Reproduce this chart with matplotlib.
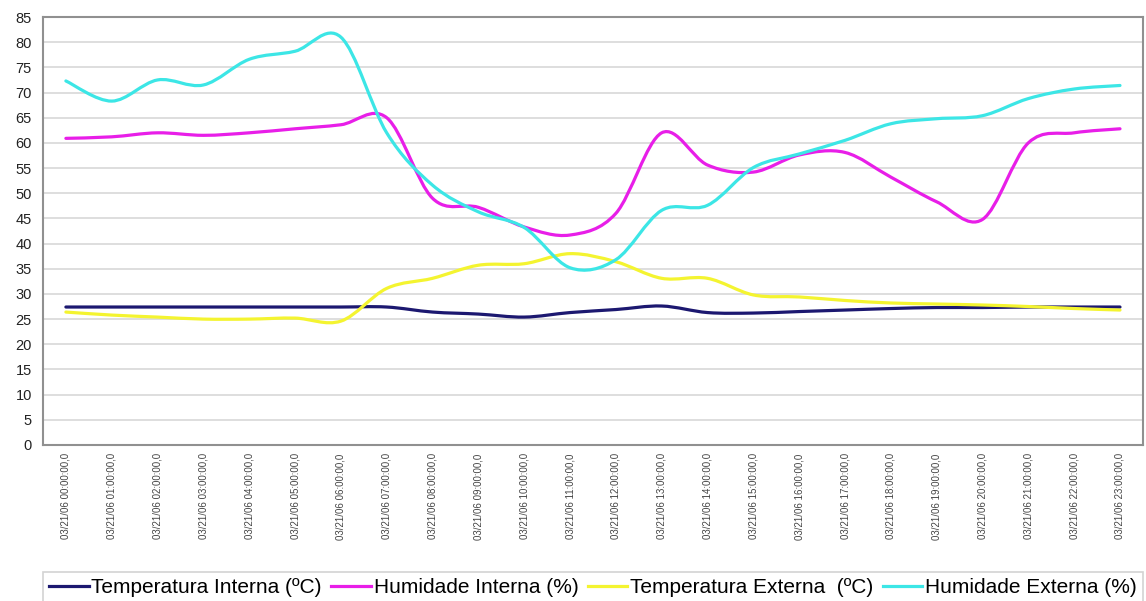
import matplotlib.pyplot as plt
import numpy as np
from matplotlib.path import Path
from matplotlib.patches import PathPatch
from matplotlib.lines import Line2D

plt.rcParams['font.family'] = ['Liberation Sans', 'DejaVu Sans']

horas = ['03/21/06 %02d:00:00,0' % h for h in range(24)]

temp_interna = [27.4, 27.4, 27.4, 27.4, 27.4, 27.4, 27.4, 27.4, 26.4, 26.0, 25.4, 26.3,
                26.9, 27.6, 26.3, 26.2, 26.5, 26.8, 27.1, 27.3, 27.3, 27.4, 27.4, 27.4]
hum_interna = [60.9, 61.2, 62.0, 61.5, 62.0, 62.8, 63.6, 65.0, 49.0, 47.2, 43.3, 41.7,
               46.0, 62.0, 55.6, 54.2, 57.6, 58.1, 53.2, 48.3, 44.8, 60.0, 62.0, 62.8]
temp_externa = [26.4, 25.8, 25.4, 25.0, 25.0, 25.2, 24.6, 31.1, 33.1, 35.7, 36.0, 38.0,
                36.4, 33.1, 33.1, 29.8, 29.4, 28.7, 28.2, 28.0, 27.8, 27.5, 27.1, 26.8]
hum_externa = [72.3, 68.3, 72.5, 71.5, 76.6, 78.2, 81.0, 62.0, 51.6, 46.3, 43.2, 35.2,
               36.8, 46.6, 47.6, 55.1, 57.8, 60.5, 63.8, 64.8, 65.4, 68.8, 70.7, 71.4]

series = [
    ('Temperatura Interna (ºC)', temp_interna, '#1c1870'),
    ('Humidade Interna (%)', hum_interna, '#e81ee8'),
    ('Temperatura Externa  (ºC)', temp_externa, '#f4f430'),
    ('Humidade Externa (%)', hum_externa, '#3ce6e6'),
]


def smooth_path(xs, ys, tension=1 / 6):
    # Catmull-Rom style curve through the points, as bezier segments
    pts = np.column_stack([xs, ys]).astype(float)
    n = len(pts)
    verts = [pts[0]]
    codes = [Path.MOVETO]
    for i in range(n - 1):
        p0 = pts[max(i - 1, 0)]
        p1 = pts[i]
        p2 = pts[i + 1]
        p3 = pts[min(i + 2, n - 1)]
        c1 = p1 + (p2 - p0) * tension
        c2 = p2 - (p3 - p1) * tension
        verts += [c1, c2, p2]
        codes += [Path.CURVE4] * 3
    return Path(verts, codes)


fig = plt.figure(figsize=(11.46, 6.01), dpi=100)
ax = fig.add_axes([0.0375, 0.2596, 0.9598, 0.7121])

x = np.arange(len(horas))
for nome, vals, cor in series:
    patch = PathPatch(smooth_path(x, vals), facecolor='none', edgecolor=cor,
                      lw=2.3, capstyle='round', joinstyle='round', zorder=3)
    ax.add_patch(patch)

ax.set_xlim(-0.5, len(horas) - 0.5)
ax.set_ylim(0, 85)
ax.set_yticks(np.arange(0, 86, 5))
ax.yaxis.grid(True, color='#d8d8d8', lw=1.2)
ax.set_axisbelow(True)
ax.set_xticks(x)
ax.set_xticklabels(horas, rotation=90, fontsize=7, color='#444444')
ax.tick_params(axis='x', length=0, pad=6)
ax.tick_params(axis='y', length=0, labelsize=10.5, pad=8, labelcolor='#222222')
for s in ax.spines.values():
    s.set_color('#909090')
    s.set_linewidth(1.5)

handles = [Line2D([], [], color=c, lw=2.3) for _, _, c in series]
leg = fig.legend(handles, [n for n, _, _ in series], loc='lower left',
                 bbox_to_anchor=(0.0375, -0.004, 0.9598, 0.06), mode='expand',
                 borderaxespad=0, ncol=4, fontsize=15, handlelength=1.9,
                 handletextpad=0.12, columnspacing=0.2, frameon=True,
                 fancybox=False, borderpad=0.3)
leg.get_frame().set_edgecolor('#c8c8c8')
leg.get_frame().set_linewidth(1.2)

fig.savefig('out.png', dpi=100)
